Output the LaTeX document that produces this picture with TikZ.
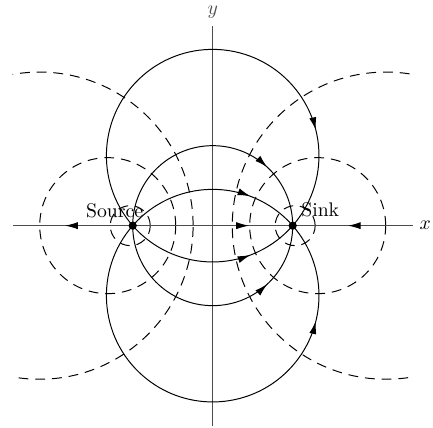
\documentclass[tikz,border=0pt]{standalone}
\usetikzlibrary{arrows.meta,decorations.markings}

\tikzset{
  flow/.style={postaction={decorate},
    decoration={markings,mark=at position #1 with {\arrow[black]{Latex[length=6.5pt,width=3.6pt]}}}},
  stream/.style={line width=0.5pt},
  equipot/.style={line width=0.5pt,dash pattern=on 5pt off 3.5pt},
  axisline/.style={line width=0.5pt,black!70},
  charge/.style={circle,fill,inner sep=0pt,minimum size=4.2pt}
}

\begin{document}
\begin{tikzpicture}[x=1.428cm,y=1.428cm]
\useasboundingbox (-2.659,-2.529) rectangle (2.754,2.821);
\coordinate (src) at (-1,0);
\coordinate (snk) at (1,0);
\coordinate (xl) at (-2.5,0);
\coordinate (xr) at (2.5,0);
\coordinate (yb) at (0,-2.5);
\coordinate (yt) at (0,2.5);

% equipotentials
\begin{scope}
\clip (-2.5,-2.5) rectangle (2.5,2.5);
\draw[equipot] (-1.0308,0) circle[radius=0.25];
\draw[equipot] (1.0308,0) circle[radius=0.25];
\draw[equipot] (-1.3124,0) circle[radius=0.85];
\draw[equipot] (1.3124,0) circle[radius=0.85];
\draw[equipot] (-2.165,0) circle[radius=1.92];
\draw[equipot] (2.165,0) circle[radius=1.92];
\end{scope}

% axes
\draw[axisline,flow=0.564] (src) -- (xl);
\draw[axisline,flow=0.727] (src) -- (snk);
\draw[axisline,flow=0.54] (xr) -- (snk);
\draw[axisline] (yb) -- (yt) node[above] (ylbl) {$y$};
\node[right] (xlbl) at (xr) {$x$};

% streamlines
\draw[stream,flow=0.79] (src) arc[start angle=221.19,end angle=-41.19,radius=1.3288];
\draw[stream,flow=0.713] (src) arc[start angle=221.19,end angle=318.81,radius=1.3288];
\draw[stream,flow=0.79] (src) arc[start angle=138.81,end angle=401.19,radius=1.3288];
\draw[stream,flow=0.713] (src) arc[start angle=138.81,end angle=41.19,radius=1.3288];
\draw[stream,flow=0.739] (src) arc[start angle=180,end angle=0,radius=1];
\draw[stream,flow=0.739] (src) arc[start angle=180,end angle=360,radius=1];

\node[charge] (srcdot) at (src) {};
\node[charge] (snkdot) at (snk) {};
\node[anchor=base,xshift=-9.2pt,yshift=4.2pt] (srclbl) at (src) {Source};
\node[anchor=base,xshift=14pt,yshift=4.9pt] (snklbl) at (snk) {Sink};
\end{tikzpicture}
\end{document}
